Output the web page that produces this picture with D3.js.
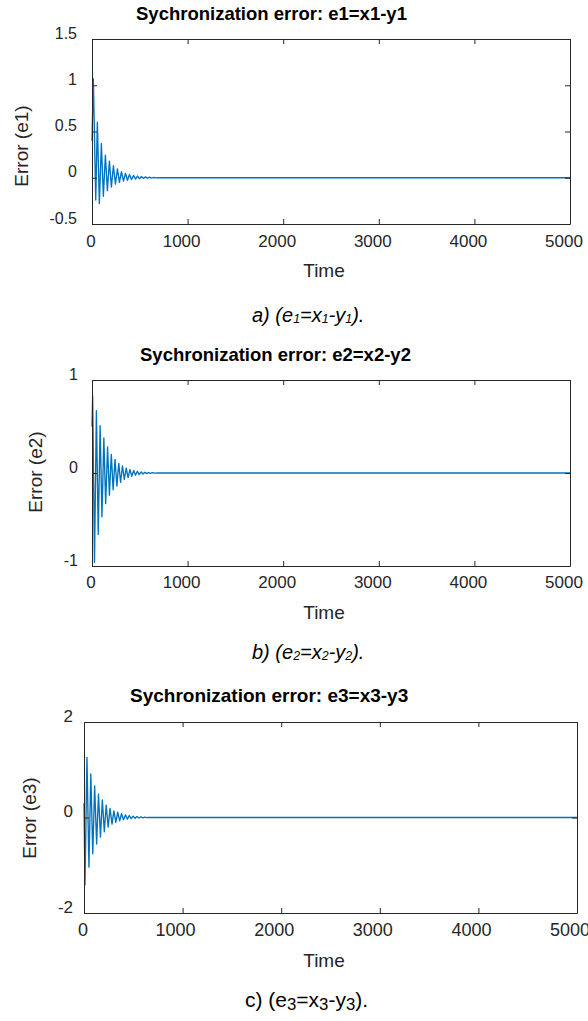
<!DOCTYPE html>
<html>
<head>
<meta charset="utf-8">
<script src="https://d3js.org/d3.v7.min.js"></script>
<style>
  html, body { margin: 0; padding: 0; background: #fff; }
  svg { display: block; font-family: "Liberation Sans", Arial, sans-serif; }
</style>
</head>
<body>
<svg id="chart" width="588" height="1021"></svg>
<script>
// ---------- data ----------
const timeTicks = [0, 1000, 2000, 3000, 4000, 5000];
const timeDomain = [0, 5000];

const e1Ticks = [-0.5, 0, 0.5, 1, 1.5];
const e1Domain = [-0.5, 1.5];
const e1Time = [0, 14, 39, 56, 77, 98, 119, 140, 161, 182, 203, 224, 245, 266, 287, 308, 329, 350, 371, 392, 413, 434, 455, 476, 497, 518, 539, 560, 581, 602, 623, 644, 665, 700, 5000];
const e1Value = [0.4, 1.07, -0.24, 0.6, -0.28, 0.37, -0.2, 0.245, -0.14, 0.18, -0.1, 0.13, -0.068, 0.095, -0.05, 0.066, -0.037, 0.048, -0.027, 0.035, -0.02, 0.025, -0.014, 0.018, -0.01, 0.013, -0.007, 0.009, -0.005, 0.006, -0.003, 0.004, -0.002, 0, 0];

const e2Ticks = [-1, 0, 1];
const e2Domain = [-1, 1];
const e2Time = [0, 7, 26, 46, 65, 85, 104, 124, 143, 163, 182, 202, 221, 241, 260, 280, 299, 319, 338, 358, 377, 397, 416, 436, 455, 475, 494, 514, 533, 553, 572, 592, 611, 631, 650, 690, 5000];
const e2Value = [0.5, 0.83, -0.96, 0.67, -0.66, 0.51, -0.47, 0.376, -0.33, 0.28, -0.24, 0.2, -0.18, 0.147, -0.14, 0.104, -0.1, 0.075, -0.07, 0.053, -0.05, 0.037, -0.035, 0.026, -0.025, 0.018, -0.017, 0.012, -0.011, 0.008, -0.007, 0.005, -0.004, 0.003, -0.002, 0, 0];

const e3Ticks = [-2, 0, 2];
const e3Domain = [-2, 2];
const e3Time = [0, 10, 30, 50, 69, 89, 108, 128, 147, 167, 186, 206, 225, 245, 264, 284, 303, 323, 342, 362, 381, 401, 420, 440, 459, 479, 498, 518, 537, 557, 576, 596, 615, 635, 654, 690, 5000];
const e3Value = [0.3, -1.41, 1.26, -1.04, 0.91, -0.76, 0.66, -0.555, 0.49, -0.41, 0.37, -0.3, 0.26, -0.2, 0.19, -0.14, 0.14, -0.1, 0.11, -0.07, 0.08, -0.05, 0.055, -0.035, 0.04, -0.025, 0.028, -0.017, 0.019, -0.011, 0.012, -0.007, 0.008, -0.004, 0.004, 0, 0];

const titles = ["Sychronization error: e1=x1-y1", "Sychronization error: e2=x2-y2", "Sychronization error: e3=x3-y3"];
const yLabels = ["Error (e1)", "Error (e2)", "Error (e3)"];
const xLabel = "Time";
// caption pieces: [text, isSubscript]
const captions = [
  [["a) (e", 0], ["1", 1], ["=x", 0], ["1", 1], ["-y", 0], ["1", 1], [").", 0]],
  [["b) (e", 0], ["2", 1], ["=x", 0], ["2", 1], ["-y", 0], ["2", 1], [").", 0]],
  [["c) (e", 0], ["3", 1], ["=x", 0], ["3", 1], ["-y", 0], ["3", 1], [").", 0]]
];

// ---------- layout ----------
const panels = [
  { time: e1Time, value: e1Value, yDomain: e1Domain, yTicks: e1Ticks,
    box: { x0: 92, x1: 570, y0: 39, y1: 224 }, title: titles[0], titleX: 136, titleY: 20, titleSize: 18.5,
    yLabel: yLabels[0], yLabelX: 28, yLabelY: 146, xTickSize: 17, yTickSize: 16, yPad: 15, xLabelY: 277,
    xTickBase: 247, xDx: -6, caption: captions[0], capX: 252, capY: 322, italic: true, capSize: 20 },
  { time: e2Time, value: e2Value, yDomain: e2Domain, yTicks: e2Ticks,
    box: { x0: 92, x1: 570, y0: 380, y1: 566 }, title: titles[1], titleX: 140, titleY: 361, titleSize: 18.5,
    yLabel: yLabels[1], yLabelX: 42, yLabelY: 472, xTickSize: 17, yTickSize: 16, yPad: 14, xLabelY: 619,
    xTickBase: 588, xDx: -6, caption: captions[1], capX: 252, capY: 659, italic: true, capSize: 20 },
  { time: e3Time, value: e3Value, yDomain: e3Domain, yTicks: e3Ticks,
    box: { x0: 84, x1: 577, y0: 722, y1: 913 }, title: titles[2], titleX: 130, titleY: 702, titleSize: 19,
    yLabel: yLabels[2], yLabelX: 36, yLabelY: 818, xTickSize: 18, yTickSize: 17, yPad: 11, xLabelY: 967,
    xTickBase: 936, xDx: -7, caption: captions[2], capX: 245, capY: 1007, italic: false, capSize: 21 }
];

const svg = d3.select("#chart");
const axisColor = "#262626";
const lineColor = "#0072BD";
const plainFmt = d => String(d);   // hyphen-minus, as in the reference

panels.forEach(p => {
  const b = p.box;
  const x = d3.scaleLinear().domain(timeDomain).range([b.x0, b.x1]);
  const y = d3.scaleLinear().domain(p.yDomain).range([b.y1, b.y0]);
  const g = svg.append("g");

  // data line
  const pts = p.time.map((t, i) => [t, p.value[i]]);
  g.append("path")
    .datum(pts)
    .attr("fill", "none")
    .attr("stroke", lineColor)
    .attr("stroke-width", 1.35)
    .attr("stroke-linejoin", "round")
    .attr("d", d3.line().x(d => x(d[0])).y(d => y(d[1])));

  // bottom axis (ticks inward)
  const gb = g.append("g").attr("transform", `translate(0,${b.y1})`)
    .call(d3.axisBottom(x).tickValues(timeTicks).tickFormat(plainFmt).tickSizeInner(-5).tickSizeOuter(0).tickPadding(0));
  gb.selectAll("text").remove();
  g.append("g").selectAll("text").data(timeTicks).join("text")
    .attr("x", d => x(d) + (d === 0 ? -1 : p.xDx))
    .attr("y", p.xTickBase)
    .attr("text-anchor", "middle")
    .attr("font-size", p.xTickSize)
    .attr("fill", axisColor)
    .text(plainFmt);

  // top axis
  g.append("g").attr("transform", `translate(0,${b.y0})`)
    .call(d3.axisTop(x).tickValues(timeTicks).tickFormat("").tickSizeInner(-5).tickSizeOuter(0));

  // left axis
  const gl = g.append("g").attr("transform", `translate(${b.x0},0)`)
    .call(d3.axisLeft(y).tickValues(p.yTicks).tickFormat(plainFmt).tickSizeInner(-5).tickSizeOuter(0).tickPadding(p.yPad));
  gl.selectAll("text").attr("font-size", p.yTickSize).attr("fill", axisColor).attr("dy", "-0.05em")
    .attr("font-family", "Liberation Sans, Arial, sans-serif");

  // right axis
  g.append("g").attr("transform", `translate(${b.x1},0)`)
    .call(d3.axisRight(y).tickValues(p.yTicks).tickFormat("").tickSizeInner(-5).tickSizeOuter(0));

  g.selectAll(".domain, .tick line").attr("stroke", axisColor).attr("stroke-width", 1);

  // title
  g.append("text")
    .attr("x", p.titleX).attr("y", p.titleY)
    .attr("font-size", p.titleSize).attr("font-weight", "bold").attr("fill", "#000")
    .text(p.title);

  // y label
  g.append("text")
    .attr("transform", `translate(${p.yLabelX},${p.yLabelY}) rotate(-90)`)
    .attr("text-anchor", "middle")
    .attr("font-size", 19).attr("fill", axisColor)
    .text(p.yLabel);

  // x label
  g.append("text")
    .attr("x", 324).attr("y", p.xLabelY)
    .attr("text-anchor", "middle")
    .attr("font-size", 19).attr("fill", axisColor)
    .text(xLabel);

  // caption
  const cap = g.append("text")
    .attr("x", p.capX).attr("y", p.capY)
    .attr("font-size", p.capSize).attr("fill", "#000")
    .attr("font-style", p.italic ? "italic" : "normal");
  let shifted = false;
  p.caption.forEach(([txt, sub]) => {
    const ts = cap.append("tspan").text(txt);
    if (sub) {
      ts.attr("font-size", p.italic ? p.capSize * 0.62 : p.capSize * 0.8).attr("dy", p.italic ? 1 : 3);
      shifted = true;
    } else if (shifted) {
      ts.attr("dy", p.italic ? -1 : -3);
      shifted = false;
    }
  });
});
</script>
</body>
</html>
